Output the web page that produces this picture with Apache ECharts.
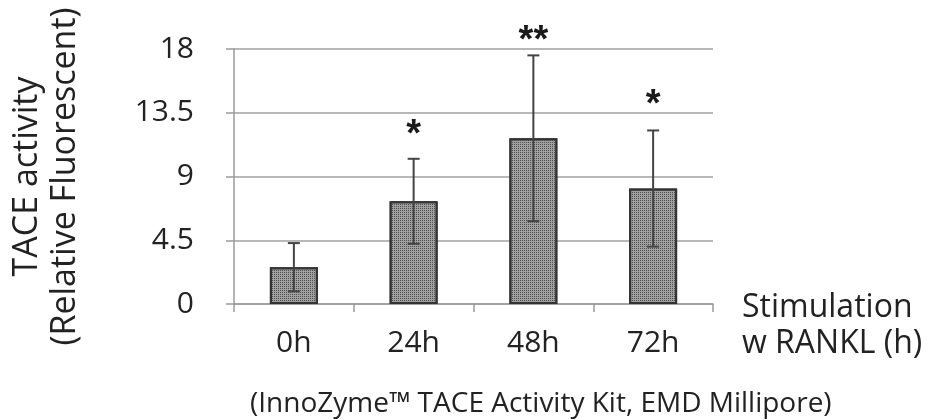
<!DOCTYPE html>
<html>
<head>
<meta charset="utf-8">
<script src="https://cdn.jsdelivr.net/npm/echarts@6/dist/echarts.min.js"></script>
<style>
  html, body { margin: 0; padding: 0; background: #fff; }
  #chart { width: 929px; height: 420px; }
</style>
</head>
<body>
<div id="chart"></div>
<script>
// ---- data ----
const categories = ['0h', '24h', '48h', '72h'];
const meanValues = [2.6, 7.25, 11.7, 8.15];
const errorValues = [1.7, 3.0, 5.85, 4.1];
const starLabels = ['', '*', '**', '*'];
const starValues = [0, 12.45, 19.1, 14.6];
const yTicks = [0, 4.5, 9, 13.5, 18];
const yAxisTitle = 'TACE activity\n(Relative Fluorescent)';
const xAxisTitle = 'Stimulation\nw RANKL (h)';
const caption = '(InnoZyme\u2122 TACE Activity Kit, EMD Millipore)';

const errorData = meanValues.map((m, i) => [i, m - errorValues[i], m + errorValues[i]]);
const starData = starLabels.map((s, i) => [i, starValues[i], s]).filter(d => d[2] !== '');

const FONT = '"Open Sans", sans-serif';
const STAR_FONT_SIZE = 38;
const chart = echarts.init(document.getElementById('chart'), null, { renderer: 'canvas' });

chart.setOption({
  animation: false,
  backgroundColor: '#ffffff',
  title: {
    text: caption,
    left: 250,
    top: 390,
    padding: 0,
    textStyle: { fontFamily: FONT, fontSize: 28, fontWeight: 'normal', color: '#222' }
  },
  graphic: [
    {
      type: 'text',
      x: 742,
      y: 290,
      style: {
        text: xAxisTitle,
        fontFamily: FONT,
        fontSize: 32,
        lineHeight: 36,
        fill: '#222',
        align: 'left',
        verticalAlign: 'top'
      }
    }
  ],
  grid: { left: 232, right: 216, top: 49, bottom: 116, containLabel: false },
  xAxis: {
    type: 'category',
    data: categories,
    axisLine: { lineStyle: { color: '#9a9a9a', width: 1.5 } },
    axisTick: { show: true, length: 8, lineStyle: { color: '#9a9a9a', width: 1.5 } },
    axisLabel: { fontFamily: FONT, fontSize: 30, color: '#222', margin: 24 }
  },
  yAxis: {
    type: 'value',
    min: 0, max: 18, interval: 4.5,
    axisLine: { show: true, lineStyle: { color: '#9a9a9a', width: 1.5 } },
    axisTick: { show: true, length: 8, lineStyle: { color: '#9a9a9a', width: 1.5 } },
    axisLabel: {
      fontFamily: FONT, fontSize: 30, color: '#222', margin: 40,
      padding: [8, 0, 0, 0],
      formatter: v => (yTicks.indexOf(v) >= 0 ? String(v) : '')
    },
    splitLine: { show: true, lineStyle: { color: '#a0a0a0', width: 1.5 } },
    name: yAxisTitle,
    nameLocation: 'middle',
    nameRotate: 90,
    nameGap: 150,
    nameTextStyle: { fontFamily: FONT, fontSize: 34, lineHeight: 38, color: '#222' }
  },
  series: [
    {
      type: 'bar',
      data: meanValues,
      barWidth: 48,
      itemStyle: {
        color: '#a0a0a0',
        borderColor: '#333',
        borderWidth: 2,
        decal: {
          symbol: 'rect',
          symbolSize: 1,
          dashArrayX: [1, 1],
          dashArrayY: [1, 1],
          color: '#505050'
        }
      },
      z: 2
    },
    {
      type: 'custom',
      data: errorData,
      z: 5,
      renderItem: function (params, api) {
        const x = api.value(0);
        const lo = api.coord([x, api.value(1)]);
        const hi = api.coord([x, api.value(2)]);
        const w = 6;
        const st = { stroke: '#444', lineWidth: 2 };
        return {
          type: 'group',
          children: [
            { type: 'line', shape: { x1: hi[0], y1: hi[1], x2: lo[0], y2: lo[1] }, style: st },
            { type: 'line', shape: { x1: hi[0] - w, y1: hi[1], x2: hi[0] + w, y2: hi[1] }, style: st },
            { type: 'line', shape: { x1: lo[0] - w, y1: lo[1], x2: lo[0] + w, y2: lo[1] }, style: st }
          ]
        };
      }
    },
    {
      type: 'custom',
      data: starData,
      z: 6,
      renderItem: function (params, api) {
        const p = api.coord([api.value(0), api.value(1)]);
        return {
          type: 'text',
          x: p[0],
          y: p[1] + 0.22 * STAR_FONT_SIZE,
          style: {
            text: starData[params.dataIndex][2],
            fontFamily: '"Liberation Sans", Arial, sans-serif',
            fontWeight: 'bold',
            fontSize: STAR_FONT_SIZE,
            fill: '#1a1a1a',
            align: 'center',
            verticalAlign: 'middle'
          }
        };
      }
    }
  ]
});
</script>
</body>
</html>
